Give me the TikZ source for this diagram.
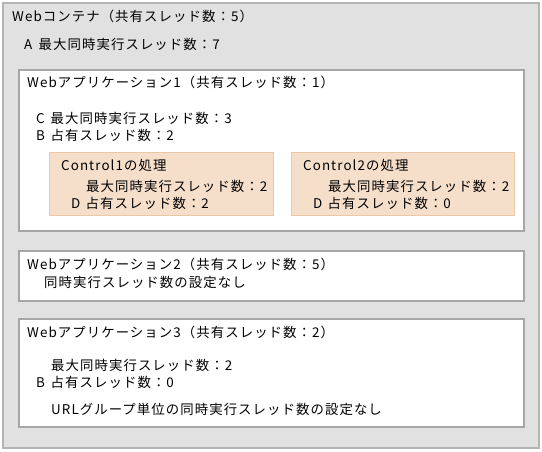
\documentclass[tikz,border=0pt]{standalone}
\usepackage{fontspec}
\newfontfamily\jp[LetterSpace=8]{Noto Sans CJK JP}
\newcommand\jpf{\jp\fontsize{13.4pt}{15pt}\selectfont}
\newcommand\lead[1]{\makebox[14.5pt][l]{#1}}
\definecolor{outerfill}{HTML}{E1E1E1}
\definecolor{outerline}{HTML}{B4B4B4}
\definecolor{appline}{HTML}{A6A6A6}
\definecolor{ctrlfill}{HTML}{F6DFCA}
\definecolor{ctrlline}{HTML}{E8C8A8}
\begin{document}
\begin{tikzpicture}[x=1pt,y=-1pt,
  outerbox/.style={fill=outerfill,draw=outerline,line width=1.2pt},
  appbox/.style={fill=white,draw=appline,line width=1.5pt},
  ctrlbox/.style={fill=ctrlfill,draw=ctrlline,line width=1pt},
  lbl/.style={anchor=west,inner sep=0pt,font=\jpf,text=black}]
\fill[white] (0,0) rectangle (542,451);
\useasboundingbox (0,0) rectangle (542,451);
% boxes
\draw[outerbox] (3,3) rectangle (539,448);
\draw[appbox] (19,70) rectangle (524,231);
\draw[ctrlbox] (49,152) rectangle (273,215);
\draw[ctrlbox] (291,152) rectangle (514,215);
\draw[appbox] (19,251) rectangle (524,301);
\draw[appbox] (19,319) rectangle (524,427);
% container texts
\node[lbl] (t0) at (12,16) {Webコンテナ（共有スレッド数：5）};
\node[lbl] (ta) at (24,44) {\lead{A}最大同時実行スレッド数：7};
% app1
\node[lbl] (a1) at (27,82) {Webアプリケーション1（共有スレッド数：1）};
\node[lbl] (a1c) at (36,118) {\lead{C}最大同時実行スレッド数：3};
\node[lbl] (a1b) at (36,135) {\lead{B}占有スレッド数：2};
\node[lbl] (c1) at (61,165) {Control1の処理};
\node[lbl] (c1m) at (86,186) {最大同時実行スレッド数：2};
\node[lbl] (c1d) at (71,203) {\lead{D}占有スレッド数：2};
\node[lbl] (c2) at (303,165) {Control2の処理};
\node[lbl] (c2m) at (328,186) {最大同時実行スレッド数：2};
\node[lbl] (c2d) at (313,203) {\lead{D}占有スレッド数：0};
% app2
\node[lbl] (a2) at (27,264) {Webアプリケーション2（共有スレッド数：5）};
\node[lbl] (a2n) at (44,282) {同時実行スレッド数の設定なし};
% app3
\node[lbl] (a3) at (27,332) {Webアプリケーション3（共有スレッド数：2）};
\node[lbl] (a3m) at (51,365) {最大同時実行スレッド数：2};
\node[lbl] (a3b) at (36,382) {\lead{B}占有スレッド数：0};
\node[lbl] (a3u) at (51,409) {URLグループ単位の同時実行スレッド数の設定なし};
\end{tikzpicture}
\end{document}
